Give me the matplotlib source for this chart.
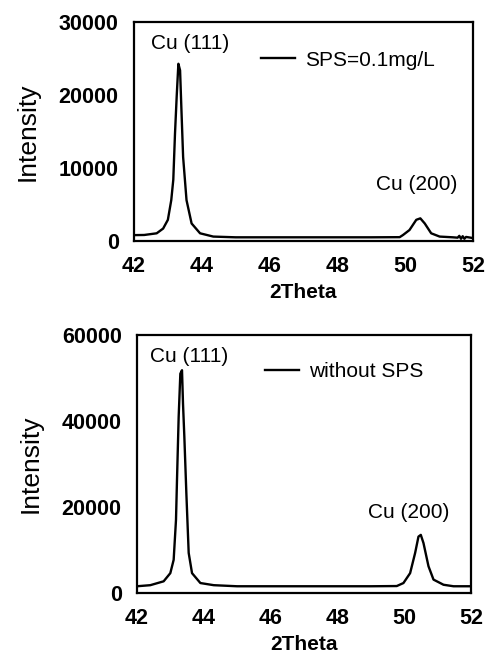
import matplotlib
matplotlib.use("Agg")
import matplotlib.pyplot as plt

# XRD trace, SPS = 0.1 mg/L
theta_sps = [42.0, 42.3, 42.67, 42.86, 43.0, 43.1, 43.16, 43.21, 43.26, 43.31,
             43.36, 43.4, 43.45, 43.55, 43.7, 43.95, 44.34, 45.0, 47.0, 49.0,
             49.84, 49.94, 50.13, 50.33, 50.45, 50.58, 50.77, 51.02, 51.41,
             51.55, 51.6, 51.65, 51.7, 51.75, 51.8, 52.0]
int_sps = [800, 820, 1050, 1700, 2900, 5600, 8400, 14700, 19800, 24300,
           23400, 18000, 11500, 5600, 2400, 1050, 600, 500, 500, 500,
           520, 820, 1500, 2900, 3100, 2400, 1050, 600, 500,
           450, 700, 300, 650, 300, 550, 400]

# XRD trace, without SPS
theta_ref = [42.0, 42.4, 42.8, 43.0, 43.1, 43.17, 43.2, 43.25, 43.3, 43.35,
             43.38, 43.42, 43.48, 43.55, 43.65, 43.9, 44.3, 45.0, 47.0, 49.0,
             49.78, 49.98, 50.18, 50.33, 50.43, 50.5, 50.58, 50.73, 50.88,
             51.18, 51.48, 52.0]
int_ref = [1550, 1800, 2700, 4600, 7700, 17000, 26300, 41000, 51000, 51800,
           44000, 36300, 23200, 9300, 4600, 2300, 1800, 1550, 1550, 1550,
           1600, 2300, 4600, 9300, 13100, 13500, 11600, 6200, 3100,
           1900, 1550, 1550]

x_ticks = [42, 44, 46, 48, 50, 52]
y_ticks_top = [0, 10000, 20000, 30000]
y_ticks_bot = [0, 20000, 40000, 60000]

panels = [
    dict(x=theta_sps, y=int_sps, label="SPS=0.1mg/L", yticks=y_ticks_top,
         rect=[0.274, 0.631, 0.693, 0.335], p111=(43.65, 27100), p200=(50.33, 7700),
         leg=(0.376, 0.826)),
    dict(x=theta_ref, y=int_ref, label="without SPS", yticks=y_ticks_bot,
         rect=[0.280, 0.092, 0.683, 0.395], p111=(43.55, 54900), p200=(50.13, 18600),
         leg=(0.384, 0.857)),
]

plt.rcParams['font.family'] = ['Liberation Sans', 'DejaVu Sans']

fig = plt.figure(figsize=(4.89, 6.53), dpi=100)

for p in panels:
    ax = fig.add_axes(p["rect"])
    ax.plot(p["x"], p["y"], color="black", lw=1.7, label=p["label"])
    ax.set_xlim(42, 52)
    ax.set_ylim(p["yticks"][0], p["yticks"][-1])
    ax.set_xticks(x_ticks)
    ax.set_yticks(p["yticks"])
    ax.tick_params(length=0, labelsize=15.5, pad=11)
    for lab in ax.get_xticklabels() + ax.get_yticklabels():
        lab.set_fontweight("bold")
    for s in ax.spines.values():
        s.set_linewidth(1.6)
    ax.set_xlabel("2Theta", fontsize=15, fontweight="bold", labelpad=4)
    ax.set_ylabel("Intensity", fontsize=19, labelpad=14)
    ax.text(p["p111"][0], p["p111"][1], "Cu (111)", fontsize=15,
            ha="center", va="center")
    ax.text(p["p200"][0], p["p200"][1], "Cu (200)", fontsize=15,
            ha="center", va="center")
    ax.legend(loc="center left", bbox_to_anchor=p["leg"], frameon=False,
              fontsize=15, handlelength=1.6, handletextpad=0.5,
              borderpad=0, borderaxespad=0)

fig.savefig("out.png", dpi=100)
